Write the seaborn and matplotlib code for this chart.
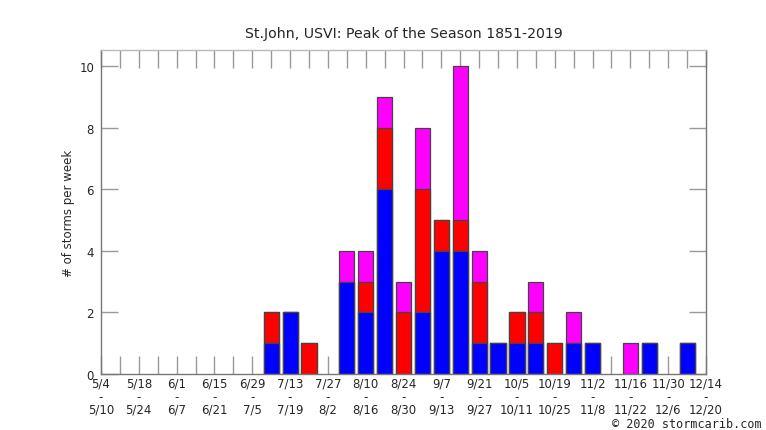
import matplotlib
matplotlib.use("Agg")
import matplotlib.pyplot as plt
import seaborn as sns
import pandas as pd
import numpy as np

# week start/end labels (every week from 5/4 to 12/14)
week_starts = ["5/4", "5/11", "5/18", "5/25", "6/1", "6/8", "6/15", "6/22",
               "6/29", "7/6", "7/13", "7/20", "7/27", "8/3", "8/10", "8/17",
               "8/24", "8/31", "9/7", "9/14", "9/21", "9/28", "10/5", "10/12",
               "10/19", "10/26", "11/2", "11/9", "11/16", "11/23", "11/30", "12/7",
               "12/14"]
week_ends = ["5/10", "5/17", "5/24", "5/31", "6/7", "6/14", "6/21", "6/28",
             "7/5", "7/12", "7/19", "7/26", "8/2", "8/9", "8/16", "8/23",
             "8/30", "9/6", "9/13", "9/20", "9/27", "10/4", "10/11", "10/18",
             "10/25", "11/1", "11/8", "11/15", "11/22", "11/29", "12/6", "12/13",
             "12/20"]

blue = [0, 0, 0, 0, 0, 0, 0, 0, 0, 1, 2, 0, 0, 3, 2, 6, 0, 2, 4, 4, 1, 1, 1, 1,
        0, 1, 1, 0, 0, 1, 0, 1, 0]
red = [0, 0, 0, 0, 0, 0, 0, 0, 0, 1, 0, 1, 0, 0, 1, 2, 2, 4, 1, 1, 2, 0, 1, 1,
       1, 0, 0, 0, 0, 0, 0, 0, 0]
magenta = [0, 0, 0, 0, 0, 0, 0, 0, 0, 0, 0, 0, 0, 1, 1, 1, 1, 2, 0, 5, 1, 0, 0, 1,
           0, 1, 0, 0, 1, 0, 0, 0, 0]

n = len(week_starts)
df = pd.DataFrame({
    "week": list(range(n)),
    "blue": blue,
    "red": red,
    "magenta": magenta,
})
df["lvl_red"] = df["blue"] + df["red"]
df["lvl_mag"] = df["lvl_red"] + df["magenta"]
# empty weeks get no bar at all
for col in ["blue", "lvl_red", "lvl_mag"]:
    df[col] = df[col].replace(0, np.nan)

sns.set_style("white")
plt.rcParams["font.family"] = ["DejaVu Sans"]

fig = plt.figure(figsize=(7.66, 4.31), dpi=100)
ax = fig.add_axes([101 / 766, 1 - 375 / 431, 605 / 766, 324 / 431])

edge = "#444444"
common = dict(x="week", order=list(range(n)), width=0.8, saturation=1,
              edgecolor=edge, linewidth=0.9, ax=ax, errorbar=None)
sns.barplot(data=df, y="lvl_mag", color="#ff00ff", **common)
sns.barplot(data=df, y="lvl_red", color="#ff0000", **common)
sns.barplot(data=df, y="blue", color="#0000ff", **common)

ax.set_xlim(0, n - 1)
ax.set_ylim(0, 10.52)

ax.set_xticks(range(n))
labels = [f"{s}\n-\n{e}" if i % 2 == 0 else "" for i, (s, e) in enumerate(zip(week_starts, week_ends))]
ax.set_xticklabels(labels, fontsize=8.5, linespacing=0.98)
ax.set_yticks([0, 2, 4, 6, 8, 10])
ax.set_yticklabels(["0", "2", "4", "6", "8", "10"], fontsize=8.5)

ax.tick_params(axis="x", which="both", direction="in", length=13, width=1,
               color="#999999", top=True, bottom=True, pad=2)
ax.tick_params(axis="y", which="both", direction="in", length=12.5, width=1,
               color="#999999", left=True, right=True, pad=5)

for side in ["left", "right", "bottom"]:
    ax.spines[side].set_color("#777777")
    ax.spines[side].set_linewidth(1)
ax.spines["top"].set_color("#bbbbbb")
ax.spines["top"].set_linewidth(1)

ax.set_xlabel("")
ax.set_ylabel("# of storms per week", fontsize=8.5, labelpad=3)
ax.set_title("St.John, USVI: Peak of the Season 1851-2019", fontsize=10.2, pad=9.5)

fig.text(762 / 766, 1 - 431 / 431, "\u00a9 2020 stormcarib.com", ha="right", va="bottom",
         fontsize=8.5, family=["DejaVu Sans Mono"])

fig.savefig("out.png", dpi=100)
